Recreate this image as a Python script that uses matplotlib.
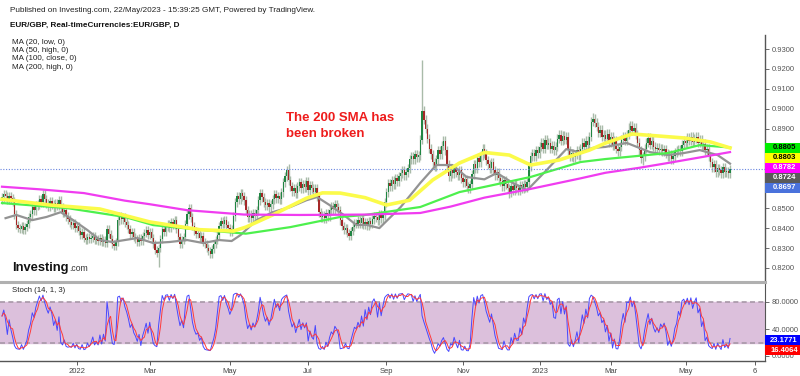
import matplotlib
matplotlib.use('Agg')
import matplotlib.pyplot as plt
import numpy as np
import pandas as pd
from matplotlib.patches import Rectangle

# --- data (daily closes, EUR/GBP) ---
closes = [
    0.8555, 0.8570, 0.8560, 0.8545, 0.8560, 0.8550, 0.8535, 0.8470, 0.8415, 0.8400,
    0.8395, 0.8410, 0.8390, 0.8405, 0.8420, 0.8455, 0.8470, 0.8505, 0.8490, 0.8515,
    0.8520, 0.8545, 0.8530, 0.8570, 0.8545, 0.8525, 0.8510, 0.8535, 0.8520, 0.8505,
    0.8525, 0.8515, 0.8540, 0.8505, 0.8480, 0.8490, 0.8460, 0.8445, 0.8430, 0.8415,
    0.8425, 0.8400, 0.8410, 0.8385, 0.8365, 0.8380, 0.8350, 0.8340, 0.8355, 0.8345,
    0.8350, 0.8360, 0.8340, 0.8345, 0.8335, 0.8350, 0.8330, 0.8340, 0.8325, 0.8395,
    0.8370, 0.8345, 0.8320, 0.8310, 0.8330, 0.8440, 0.8460, 0.8445, 0.8455, 0.8430,
    0.8415, 0.8395, 0.8370, 0.8380, 0.8355, 0.8345, 0.8330, 0.8350, 0.8335, 0.8360,
    0.8375, 0.8390, 0.8365, 0.8380, 0.8350, 0.8320, 0.8290, 0.8275, 0.8300, 0.8345,
    0.8395, 0.8380, 0.8405, 0.8420, 0.8400, 0.8430, 0.8415, 0.8440, 0.8395, 0.8355,
    0.8320, 0.8340, 0.8355, 0.8420, 0.8470, 0.8500, 0.8455, 0.8410, 0.8385, 0.8370,
    0.8375, 0.8350, 0.8360, 0.8330, 0.8320, 0.8300, 0.8285, 0.8270, 0.8295, 0.8320,
    0.8340, 0.8365, 0.8410, 0.8435, 0.8420, 0.8440, 0.8415, 0.8400, 0.8380, 0.8395,
    0.8460, 0.8530, 0.8560, 0.8545, 0.8575, 0.8560, 0.8540, 0.8490, 0.8455, 0.8470,
    0.8450, 0.8475, 0.8460, 0.8490, 0.8540, 0.8575, 0.8555, 0.8530, 0.8515, 0.8525,
    0.8505, 0.8520, 0.8545, 0.8570, 0.8550, 0.8560, 0.8545, 0.8580, 0.8630, 0.8660,
    0.8690, 0.8640, 0.8610, 0.8585, 0.8600, 0.8575, 0.8610, 0.8630, 0.8600, 0.8620,
    0.8605, 0.8635, 0.8590, 0.8615, 0.8600, 0.8580, 0.8600, 0.8560, 0.8480, 0.8455,
    0.8465, 0.8450, 0.8475, 0.8460, 0.8490, 0.8510, 0.8495, 0.8520, 0.8505, 0.8490,
    0.8440, 0.8410, 0.8390, 0.8400, 0.8375, 0.8360, 0.8385, 0.8405, 0.8425, 0.8420,
    0.8440, 0.8425, 0.8450, 0.8415, 0.8430, 0.8410, 0.8435, 0.8420, 0.8445, 0.8460,
    0.8455, 0.8440, 0.8470, 0.8450, 0.8465, 0.8530, 0.8580, 0.8625, 0.8610, 0.8640,
    0.8620, 0.8650, 0.8635, 0.8660, 0.8675, 0.8690, 0.8665, 0.8680, 0.8700, 0.8745,
    0.8760, 0.8745, 0.8770, 0.8755, 0.8765, 0.8845, 0.8990, 0.8945, 0.8900, 0.8850,
    0.8800, 0.8770, 0.8730, 0.8710, 0.8745, 0.8790, 0.8770, 0.8815, 0.8840, 0.8790,
    0.8720, 0.8660, 0.8690, 0.8675, 0.8700, 0.8680, 0.8665, 0.8690, 0.8650, 0.8630,
    0.8645, 0.8610, 0.8600, 0.8620, 0.8670, 0.8720, 0.8700, 0.8750, 0.8730, 0.8765,
    0.8800, 0.8775, 0.8740, 0.8720, 0.8700, 0.8730, 0.8690, 0.8665, 0.8680, 0.8650,
    0.8635, 0.8610, 0.8640, 0.8620, 0.8600, 0.8575, 0.8610, 0.8590, 0.8620, 0.8600,
    0.8590, 0.8615, 0.8600, 0.8620, 0.8605, 0.8630, 0.8710, 0.8760, 0.8775, 0.8760,
    0.8790, 0.8775, 0.8810, 0.8830, 0.8800, 0.8845, 0.8820, 0.8830, 0.8800, 0.8815,
    0.8790, 0.8810, 0.8850, 0.8870, 0.8840, 0.8865, 0.8845, 0.8860, 0.8790, 0.8760,
    0.8775, 0.8755, 0.8770, 0.8790, 0.8765, 0.8800, 0.8830, 0.8810, 0.8840, 0.8820,
    0.8860, 0.8935, 0.8950, 0.8930, 0.8910, 0.8880, 0.8895, 0.8860, 0.8870, 0.8850,
    0.8875, 0.8830, 0.8860, 0.8815, 0.8840, 0.8800, 0.8785, 0.8810, 0.8845, 0.8860,
    0.8840, 0.8870, 0.8895, 0.8915, 0.8890, 0.8905, 0.8870, 0.8830, 0.8790, 0.8750,
    0.8760, 0.8800, 0.8830, 0.8855, 0.8820, 0.8840, 0.8810, 0.8795, 0.8805, 0.8790,
    0.8800, 0.8785, 0.8795, 0.8775, 0.8760, 0.8770, 0.8745, 0.8760, 0.8780, 0.8790,
    0.8795, 0.8785, 0.8820, 0.8840, 0.8830, 0.8855, 0.8840, 0.8860, 0.8835, 0.8850,
    0.8860, 0.8830, 0.8845, 0.8815, 0.8825, 0.8790, 0.8800, 0.8760, 0.8730, 0.8705,
    0.8720, 0.8680, 0.8700, 0.8690, 0.8675, 0.8705, 0.8680, 0.8685, 0.8675, 0.8697,
]
first_open = 0.8545

# notable wicks
high_bars = [161, 236, 332, 352]
high_vals = [0.8720, 0.9245, 0.8980, 0.8930]
low_bars = [88, 118, 286, 360]
low_vals = [0.8204, 0.8252, 0.8556, 0.8717]

# moving averages (bar index, value)
ma20_x = [2, 8, 17, 25, 33, 40, 48, 55, 62, 69, 76, 85, 94, 104, 113, 122, 129, 134, 143, 152,
          162, 171, 177, 184, 192, 199, 205, 212, 224, 235, 244, 253, 261, 271, 278, 287, 295,
          306, 317, 325, 332, 339, 351, 364, 374, 383, 392, 402, 409]
ma20_y = [0.8450, 0.8466, 0.8440, 0.8456, 0.8480, 0.8440, 0.8390, 0.8340, 0.8330, 0.8340,
          0.8350, 0.8325, 0.8330, 0.8340, 0.8325, 0.8340, 0.8335, 0.8365, 0.8440, 0.8480,
          0.8506, 0.8540, 0.8556, 0.8516, 0.8466, 0.8416, 0.8416, 0.8400, 0.8506, 0.8627,
          0.8717, 0.8717, 0.8657, 0.8645, 0.8677, 0.8627, 0.8590, 0.8692, 0.8797, 0.8780,
          0.8803, 0.8808, 0.8828, 0.8782, 0.8767, 0.8777, 0.8792, 0.8767, 0.8724]
ma50_x = [0, 27, 55, 83, 111, 130, 137, 152, 171, 180, 190, 204, 216, 229, 242, 257, 271,
          285, 297, 313, 330, 339, 354, 383, 398, 409]
ma50_y = [0.8545, 0.8516, 0.8496, 0.8431, 0.8392, 0.8385, 0.8405, 0.8466, 0.8550, 0.8577,
          0.8576, 0.8553, 0.8516, 0.8540, 0.8642, 0.8727, 0.8780, 0.8767, 0.8717, 0.8742,
          0.8792, 0.8827, 0.8873, 0.8853, 0.8833, 0.8803]
ma100_x = [0, 37, 69, 85, 113, 137, 162, 190, 204, 235, 257, 271, 297, 325, 339, 374, 392, 409]
ma100_y = [0.8526, 0.8500, 0.8456, 0.8415, 0.8390, 0.8372, 0.8405, 0.8456, 0.8466, 0.8506,
           0.8581, 0.8607, 0.8657, 0.8732, 0.8747, 0.8777, 0.8817, 0.8805]
ma200_x = [0, 21, 46, 69, 83, 104, 136, 167, 205, 235, 252, 271, 297, 325, 339, 358, 374, 392, 409]
ma200_y = [0.8608, 0.8595, 0.8576, 0.8538, 0.8520, 0.8490, 0.8468, 0.8466, 0.8468, 0.8476,
           0.8508, 0.8553, 0.8597, 0.8650, 0.8678, 0.8703, 0.8727, 0.8755, 0.8782]

price_ticks = [0.93, 0.92, 0.91, 0.90, 0.89, 0.85, 0.84, 0.83, 0.82]
tick_pos = [42, 83, 128, 172, 216, 259, 302, 342, 384, 423]
tick_labels = ['2022', 'Mar', 'May', 'Jul', 'Sep', 'Nov', '2023', 'Mar', 'May', '6']
stoch_last = [23.1771, 16.4064]

# --- build OHLC ---
c = np.array(closes)
o = np.concatenate([[first_open], c[:-1]])
wick = 0.0022
h = np.maximum(o, c) + wick
l = np.minimum(o, c) - wick
h[high_bars] = high_vals
l[low_bars] = low_vals
x = np.arange(len(c))

df = pd.DataFrame({'high': h, 'low': l, 'close': c})
hh = df['high'].rolling(14, min_periods=1).max()
ll = df['low'].rolling(14, min_periods=1).min()
stoch_k = 100 * (df['close'] - ll) / (hh - ll)
stoch_d = stoch_k.rolling(3, min_periods=1).mean()

plt.rcParams['font.family'] = ['Liberation Sans', 'DejaVu Sans']

W, H = 800, 376
fig = plt.figure(figsize=(8, 3.76), dpi=100)
fig.patch.set_facecolor('white')

def fx(px):
    return px / W

def fy(py):
    return 1 - py / H

# pixel mapping: bar i at 2 + 1.78*i
xlim = (-2 / 1.78, (765 - 2) / 1.78)

# price panel: y=35..281 px, 0.93 at y=49, 1990 px per unit
ax = fig.add_axes([0, fy(281), fx(765), (281 - 35) / H])
ax.set_xlim(*xlim)
ax.set_ylim(0.93 - (281 - 49) / 1990, 0.93 + (49 - 35) / 1990)

up = c >= o
wick_col = '#a9bba9'
ax.vlines(x, l, h, color=wick_col, linewidth=1.0, zorder=1)
body_bot = np.minimum(o, c)
body_h = np.maximum(np.abs(c - o), 0.0003)
ax.bar(x[up], body_h[up], bottom=body_bot[up], width=0.75, color='#1f8542', linewidth=0, zorder=2)
ax.bar(x[~up], body_h[~up], bottom=body_bot[~up], width=0.75, color='#a52828', linewidth=0, zorder=2)

ax.plot(ma20_x, ma20_y, color='#939393', linewidth=1.6, zorder=3)
ax.plot(ma100_x, ma100_y, color='#4df04d', linewidth=1.6, zorder=3)
ax.plot(ma50_x, ma50_y, color='#fbfb4a', linewidth=2.6, zorder=4)
ax.plot(ma200_x, ma200_y, color='#f03cf0', linewidth=1.6, zorder=4)

ax.axhline(c[-1], color='#6a86e0', linewidth=0.8, linestyle=(0, (1, 1.5)), zorder=5)

for s in ['top', 'left', 'bottom']:
    ax.spines[s].set_visible(False)
ax.spines['right'].set_color('#555555')
ax.spines['right'].set_linewidth(1.0)
ax.yaxis.tick_right()
ax.set_yticks(price_ticks)
ax.set_yticklabels([f'{v:.4f}' for v in price_ticks])
ax.tick_params(axis='y', length=3, width=0.6, colors='#555555', labelsize=5.5, pad=2)
ax.set_xticks([])

# right-side value labels, stacked
labels = [
    (ma100_y[-1], '#00ee00', 'black'),
    (ma50_y[-1], '#ffff00', 'black'),
    (ma200_y[-1], '#ff00ff', 'white'),
    (ma20_y[-1], '#5a5a5a', 'white'),
    (closes[-1], '#4a72dc', 'white'),
]

def stacked_boxes(axis, items, box_h=10):
    prev_bottom = None
    for val, bg, fg in items:
        ypx = axis.transData.transform((0, val))[1]
        top = ypx + box_h / 2
        if prev_bottom is not None and top > prev_bottom:
            top = prev_bottom
        bottom = top - box_h
        prev_bottom = bottom
        fig.patches.append(Rectangle((fx(765), bottom / H), fx(35), box_h / H,
                                     transform=fig.transFigure, facecolor=bg,
                                     edgecolor='none', zorder=10))
        fig.text(fx(784), (bottom + box_h / 2) / H, f'{val:.4f}', color=fg, fontsize=5.5,
                 fontweight='bold', ha='center', va='center', zorder=11)

stacked_boxes(ax, labels)

# stochastic panel: y=282..361 px, 80 at 302, 0.675 px per unit
ax2 = fig.add_axes([0, fy(361), fx(765), (361 - 282) / H])
ax2.set_xlim(*xlim)
zero_px = 356
ax2.set_ylim(-(361 - zero_px) / 0.675, (zero_px - 282) / 0.675)
ax2.axhspan(20, 80, color='#dcc0dc', zorder=0)
ax2.axhline(80, color='#a898a8', linewidth=1.2, linestyle=(0, (3, 2)), zorder=1)
ax2.axhline(20, color='#a898a8', linewidth=1.2, linestyle=(0, (3, 2)), zorder=1)
ax2.plot(x, stoch_k, color='#4848ff', linewidth=0.7, zorder=3)
ax2.plot(x, stoch_d, color='#ff3a3a', linewidth=0.7, zorder=3)

ax2.spines['left'].set_visible(False)
ax2.spines['top'].set_color('#b0b0b0')
ax2.spines['top'].set_linewidth(2.2)
ax2.spines['right'].set_color('#555555')
ax2.spines['bottom'].set_color('#555555')
ax2.spines['bottom'].set_linewidth(1.0)
ax2.yaxis.tick_right()
ax2.set_yticks([80, 40, 0])
ax2.set_yticklabels(['80.0000', '40.0000', '0.0000'])
ax2.tick_params(axis='y', length=3, width=0.6, colors='#555555', labelsize=5.5, pad=2)
ax2.set_xticks(tick_pos)
ax2.set_xticklabels(tick_labels)
ax2.tick_params(axis='x', length=3, width=0.6, colors='#444444', labelsize=5.5, pad=2)

stoch_items = [(stoch_last[0], '#0000ff', 'white'), (stoch_last[1], '#ff0000', 'white')]
stacked_boxes(ax2, stoch_items)

# header and annotations
fig.text(fx(10), fy(11), 'Published on Investing.com, 22/May/2023 - 15:39:25 GMT, Powered by TradingView.',
         fontsize=5.9, color='#222222', va='center')
fig.text(fx(10), fy(25), 'EUR/GBP, Real-timeCurrencies:EUR/GBP, D', fontsize=5.9,
         fontweight='bold', color='#111111', va='center')
for i, t in enumerate(['MA (20, low, 0)', 'MA (50, high, 0)', 'MA (100, close, 0)', 'MA (200, high, 0)']):
    fig.text(fx(12), fy(42 + 8.4 * i), t, fontsize=5.8, color='#222222', va='center')

fig.text(fx(286), fy(118), 'The 200 SMA has', fontsize=9.5, fontweight='bold',
         color='#ee1c1c', va='center')
fig.text(fx(286), fy(134), 'been broken', fontsize=9.5, fontweight='bold',
         color='#ee1c1c', va='center')

# logo: ".com" placed right after the measured width of "Investing"
logo = fig.text(fx(12), fy(268), 'Investing', fontsize=9.3, fontweight='bold',
                color='#111111', va='baseline')
fig.canvas.draw()
bb = logo.get_window_extent()
fig.text((bb.x1 + 1) / W, bb.y0 / H, '.com', fontsize=6.2, color='#333333', va='bottom')
logo.set_va('center')
logo.set_position((fx(12), fy(268)))
fig.canvas.draw()
bb = logo.get_window_extent()
fig.texts[-1].set_position(((bb.x1 + 1) / W, (bb.y0 + 1) / H))

fig.text(fx(12), fy(291), 'Stoch (14, 1, 3)', fontsize=5.6, color='#222222', va='center')

fig.savefig('out.png', dpi=100)
